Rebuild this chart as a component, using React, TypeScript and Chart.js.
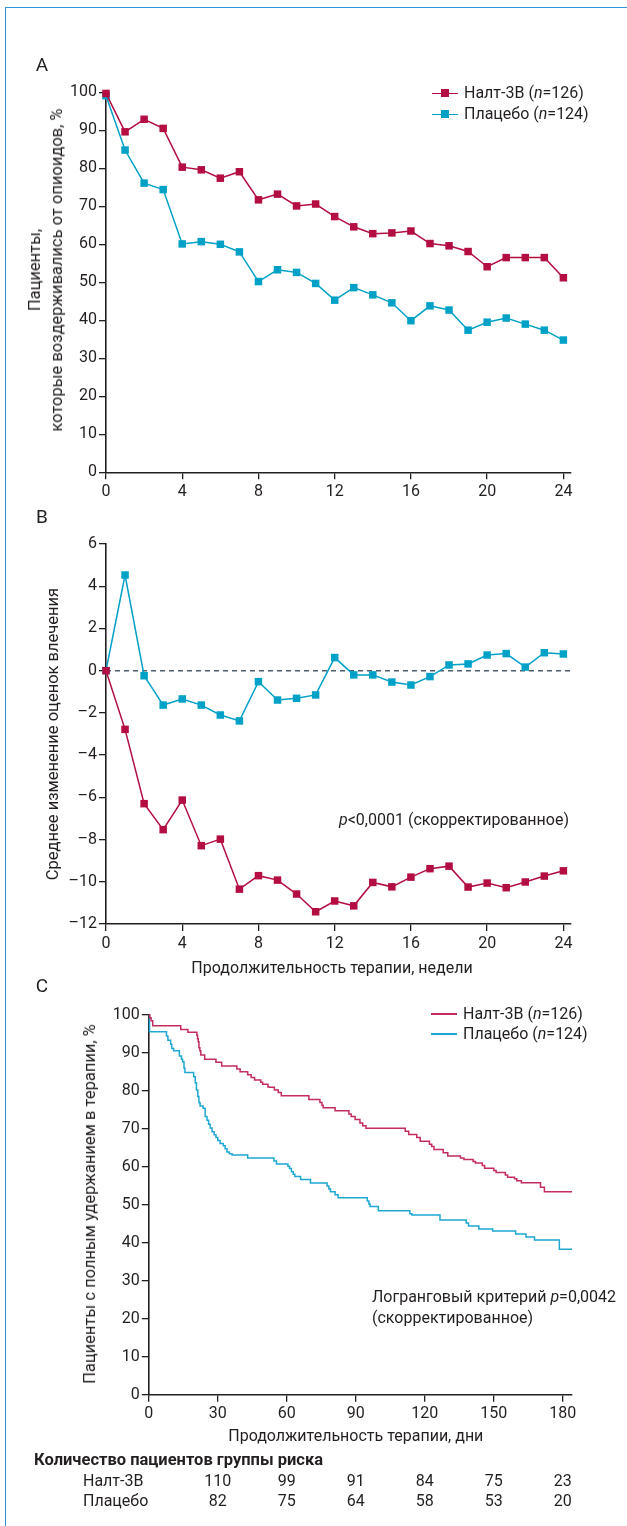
import React, { useEffect, useRef } from 'react';
import { Chart, registerables } from 'chart.js';

Chart.register(...registerables);

// ---------- DATA ----------
const weeks = [0, 1, 2, 3, 4, 5, 6, 7, 8, 9, 10, 11, 12, 13, 14, 15, 16, 17, 18, 19, 20, 21, 22, 23, 24];
const weekTicks = [0, 4, 8, 12, 16, 20, 24];
const pctTicks = [0, 10, 20, 30, 40, 50, 60, 70, 80, 90, 100];
const cravingTicks = [-12, -10, -8, -6, -4, -2, 0, 2, 4, 6];
const dayTicks = [0, 30, 60, 90, 120, 150, 180];

const abstinenceNalt = [99.7, 89.6, 92.9, 90.5, 80.3, 79.6, 77.4, 79.1, 71.7, 73.2, 70.1, 70.6, 67.3, 64.6, 62.8, 63.0, 63.5, 60.2, 59.6, 58.1, 54.1, 56.5, 56.5, 56.5, 51.2];
const abstinencePlacebo = [99.1, 84.8, 76.1, 74.4, 60.1, 60.7, 60.0, 58.0, 50.2, 53.3, 52.6, 49.7, 45.3, 48.6, 46.7, 44.6, 39.9, 43.8, 42.7, 37.4, 39.5, 40.6, 39.0, 37.4, 34.8];

const cravingNalt = [0, -2.78, -6.3, -7.53, -6.13, -8.29, -7.98, -10.35, -9.71, -9.92, -10.58, -11.42, -10.91, -11.14, -10.03, -10.24, -9.78, -9.38, -9.26, -10.25, -10.06, -10.28, -10.01, -9.73, -9.48];
const cravingPlacebo = [0, 4.53, -0.24, -1.63, -1.34, -1.63, -2.1, -2.38, -0.52, -1.39, -1.31, -1.15, 0.62, -0.2, -0.2, -0.54, -0.68, -0.28, 0.27, 0.32, 0.74, 0.81, 0.17, 0.85, 0.79];

const kmNaltDays = [0, 0.4, 1, 1.7, 13.9, 17, 20.9, 21.2, 21.5, 21.8, 22.2, 22.6, 24.3, 29.2, 31.7, 38.3, 39.7, 43, 44.5, 46, 48.7, 49.5, 51.8, 52.5, 54.6, 56.3, 57.6, 69.6, 74.4, 75.3, 75.8, 81, 87, 88, 89.7, 91.8, 93, 94.4, 111.5, 113, 116.5, 118, 122, 123, 124, 128, 130, 135.5, 137, 141, 142, 145, 146, 150, 151, 155, 156, 159, 160, 162, 170.3, 172, 184];
const kmNaltPct = [100, 99.2, 98.4, 97.1, 96.1, 95.4, 94.6, 93.7, 92.9, 91.3, 90.5, 89.4, 88.3, 87.5, 86.5, 85.7, 85.0, 84.2, 83.5, 82.8, 82.2, 81.7, 81.0, 80.9, 80.2, 79.5, 78.7, 77.7, 76.9, 76.2, 75.5, 74.7, 73.9, 73.2, 72.4, 71.5, 70.8, 70.1, 69.3, 68.5, 67.7, 66.7, 65.9, 65.3, 64.5, 63.7, 62.8, 62.3, 61.9, 61.4, 61.0, 60.3, 59.6, 59.0, 58.5, 57.8, 57.2, 56.8, 56.3, 55.8, 54.6, 53.4, 53.4];

const kmPlaceboDays = [0, 0.3, 7.7, 8.3, 9.5, 10, 10.8, 13.3, 14.2, 14.7, 15.3, 15.7, 19.5, 20.2, 20.7, 21.3, 21.8, 22.3, 23.6, 24.5, 25.3, 26, 26.7, 27.5, 28.4, 29.2, 30, 31, 32.4, 33.2, 34, 35, 36.2, 43, 54.4, 55.5, 60.5, 61.2, 62, 62.8, 63.5, 66, 70.3, 77.5, 78.3, 79, 81, 82.3, 95, 95.7, 96.2, 99.8, 113.5, 114.4, 126.6, 138, 139, 143.5, 149.5, 159.5, 164, 167.7, 178.5, 184];
const kmPlaceboPct = [100, 95.5, 94.4, 93.3, 92.2, 91.1, 90.5, 89.1, 88.3, 87.6, 86.0, 84.8, 83.7, 82.1, 80.2, 78.5, 76.8, 76.0, 75.4, 73.2, 72.2, 71.2, 70.2, 69.2, 68.4, 67.7, 66.9, 66.1, 65.5, 64.7, 63.9, 63.4, 63.1, 62.3, 61.5, 60.7, 60.1, 59.5, 58.7, 58.0, 57.4, 56.6, 55.7, 54.9, 54.1, 53.4, 52.6, 51.8, 51.0, 50.2, 49.5, 48.4, 47.6, 47.3, 46.0, 45.2, 44.4, 43.6, 43.1, 42.3, 41.5, 40.7, 38.3, 38.3];

const riskDays = [30, 60, 90, 120, 150, 180];
const riskNalt = [110, 99, 91, 84, 75, 23];
const riskPlacebo = [82, 75, 64, 58, 53, 20];

const seriesNalt = 'Налт-3В';
const seriesPlacebo = 'Плацебо';

// ---------- STYLE ----------
const TXT = '#231f20';
const RED = '#b30d41';
const BLUE = '#00a1c7';
const RED_C = '#c42c5d';
const BLUE_C = '#1ea7d2';
const FRAME = '#2e93d8';
const FONT = 'Roboto, "Noto Sans", sans-serif';
const W = 627;

const minus = (v: number) => (v < 0 ? '\u2013' + Math.abs(v) : String(v));

function axis(kind: 'x' | 'y', min: number, max: number, ticks: number[], size: number, fmt?: (v: number) => string) {
  return {
    type: 'linear',
    min,
    max,
    afterBuildTicks: (s: any) => {
      s.ticks = ticks.map((v) => ({ value: v }));
    },
    afterFit: (s: any) => {
      if (kind === 'x') s.height = size;
      else s.width = size;
    },
    grid: { display: true, drawOnChartArea: false, drawTicks: true, tickLength: 7, color: TXT, lineWidth: 1.3 },
    border: { display: true, color: TXT, width: 1.6 },
    ticks: {
      color: TXT,
      font: { family: FONT, size: 16 },
      padding: kind === 'x' ? 3 : 2,
      maxRotation: 0,
      autoSkip: false,
      callback: (v: any) => (fmt ? fmt(Number(v)) : String(v)),
    },
  };
}

const pts = (xs: number[], ys: number[]) => xs.map((x, i) => ({ x, y: ys[i] }));

function markerSet(label: string, xs: number[], ys: number[], color: string) {
  return {
    label,
    data: pts(xs, ys),
    borderColor: color,
    backgroundColor: color,
    borderWidth: 1.5,
    pointStyle: 'rect',
    pointRadius: 5.3,
    pointBorderWidth: 0,
    pointBackgroundColor: color,
    tension: 0,
    clip: false,
  };
}

const baseOpts = {
  responsive: false,
  animation: false,
  plugins: { legend: { display: false }, tooltip: { enabled: false } },
};

function cfgA(): any {
  return {
    type: 'line',
    data: {
      datasets: [
        markerSet(seriesNalt, weeks, abstinenceNalt, RED),
        markerSet(seriesPlacebo, weeks, abstinencePlacebo, BLUE),
      ],
    },
    options: {
      ...baseOpts,
      layout: { padding: { top: 32.3, bottom: 7.7, left: 6, right: 56 } },
      scales: {
        x: axis('x', 0, 24.4, weekTicks, 40),
        y: axis('y', 0, 100, pctTicks, 100),
      },
    },
  };
}

function cfgB(): any {
  return {
    type: 'line',
    data: {
      datasets: [
        markerSet(seriesNalt, weeks, cravingNalt, RED),
        markerSet(seriesPlacebo, weeks, cravingPlacebo, BLUE),
        {
          label: 'zero',
          data: [
            { x: 0, y: 0 },
            { x: 24.5, y: 0 },
          ],
          borderColor: '#4d5d6b',
          borderDash: [5, 4],
          borderWidth: 1.5,
          pointRadius: 0,
          clip: false,
        },
      ],
    },
    options: {
      ...baseOpts,
      layout: { padding: { top: 24, bottom: 26, left: 6, right: 56 } },
      scales: {
        x: axis('x', 0, 24.4, weekTicks, 40),
        y: axis('y', -12, 6, cravingTicks, 100, minus),
      },
    },
  };
}

const riskPlugin = {
  id: 'riskTable',
  afterDraw(chart: any) {
    const ctx = chart.ctx;
    const x = chart.scales.x;
    ctx.save();
    ctx.fillStyle = TXT;
    ctx.textBaseline = 'middle';
    ctx.font = `16px ${FONT}`;
    ctx.textAlign = 'center';
    ctx.fillText('Продолжительность терапии, дни', x.getPixelForValue(90), 447);
    ctx.textAlign = 'left';
    ctx.font = `bold 16.5px ${FONT}`;
    ctx.fillText('Количество пациентов группы риска', 34, 471);
    ctx.font = `16px ${FONT}`;
    ctx.fillText(seriesNalt, 83, 492);
    ctx.fillText(seriesPlacebo, 83, 512);
    ctx.textAlign = 'center';
    riskDays.forEach((d, i) => {
      const px = x.getPixelForValue(d);
      ctx.fillText(String(riskNalt[i]), px, 492);
      ctx.fillText(String(riskPlacebo[i]), px, 512);
    });
    ctx.restore();
  },
};

function cfgC(): any {
  const km = (label: string, xs: number[], ys: number[], color: string) => ({
    label,
    data: pts(xs, ys),
    borderColor: color,
    backgroundColor: color,
    borderWidth: 1.5,
    pointRadius: 0,
    stepped: 'before',
    clip: false,
  });
  return {
    type: 'line',
    data: {
      datasets: [km(seriesNalt, kmNaltDays, kmNaltPct, RED_C), km(seriesPlacebo, kmPlaceboDays, kmPlaceboPct, BLUE_C)],
    },
    options: {
      ...baseOpts,
      layout: { padding: { top: 24.7, bottom: 106.3, left: 6, right: 55 } },
      scales: {
        x: axis('x', 0, 184, dayTicks, 25),
        y: axis('y', 0, 100, pctTicks, 142.8),
      },
    },
    plugins: [riskPlugin],
  };
}

// ---------- TEXT HELPERS ----------
type TP = { x: number; y: number; anchor?: 'start' | 'middle' | 'end'; size?: number; rotate?: boolean; children: any; weight?: number };
function T({ x, y, anchor = 'start', size = 16, rotate = false, children, weight = 400 }: TP) {
  const tx = anchor === 'start' ? '0' : anchor === 'middle' ? '-50%' : '-100%';
  return (
    <div
      style={{
        position: 'absolute',
        left: x,
        top: y,
        transform: rotate ? 'translate(-50%,-50%) rotate(-90deg)' : `translate(${tx},-50%)`,
        fontSize: size,
        fontWeight: weight,
        lineHeight: rotate ? '22px' : 1.15,
        whiteSpace: 'nowrap',
        textAlign: 'center',
      }}
    >
      {children}
    </div>
  );
}

function LegendRow({ y, color, marker, lineX, text }: { y: number; color: string; marker: boolean; lineX: number; text: any }) {
  return (
    <>
      <div style={{ position: 'absolute', left: lineX, top: y - 0.75, width: 26, height: 1.5, background: color }} />
      {marker && <div style={{ position: 'absolute', left: lineX + 9, top: y - 4, width: 8, height: 8, background: color }} />}
      <T x={lineX + 32} y={y} size={16}>
        {text}
      </T>
    </>
  );
}

export default function App() {
  const aRef = useRef<HTMLCanvasElement>(null);
  const bRef = useRef<HTMLCanvasElement>(null);
  const cRef = useRef<HTMLCanvasElement>(null);

  useEffect(() => {
    const charts = [new Chart(aRef.current!, cfgA()), new Chart(bRef.current!, cfgB()), new Chart(cRef.current!, cfgC())];
    return () => charts.forEach((c) => c.destroy());
  }, []);

  return (
    <div
      style={{
        position: 'absolute',
        left: 0,
        top: 0,
        width: W,
        height: 1526,
        overflow: 'hidden',
        background: '#fff',
        fontFamily: FONT,
        color: TXT,
      }}
    >
      <div style={{ position: 'absolute', left: 5, top: 7, width: 800, height: 1700, borderTop: `1.5px solid ${FRAME}`, borderLeft: `1.5px solid ${FRAME}` }} />
      <canvas ref={aRef} width={W} height={460} style={{ position: 'absolute', left: 0, top: 60, width: W, height: 460 }} />
      <canvas ref={bRef} width={W} height={470} style={{ position: 'absolute', left: 0, top: 520, width: W, height: 470 }} />
      <canvas ref={cRef} width={W} height={536} style={{ position: 'absolute', left: 0, top: 990, width: W, height: 536 }} />

      <T x={42} y={65} anchor="middle" size={19}>A</T>
      <T x={42} y={517} anchor="middle" size={19}>B</T>
      <T x={42} y={986} anchor="middle" size={19}>C</T>

      <T x={46} y={270} rotate size={16.5}>
        Пациенты,
        <br />
        которые воздерживались от опиоидов, %
      </T>
      <T x={53} y={734} rotate size={16.5}>
        Среднее изменение оценок влечения
      </T>
      <T x={90} y={1204} rotate size={16.5}>
        Пациенты с полным удержанием в терапии, %
      </T>

      <LegendRow y={93.3} color={RED} marker lineX={432} text={<>{seriesNalt} (<i>n</i>=126)</>} />
      <LegendRow y={114.3} color={BLUE} marker lineX={432} text={<>{seriesPlacebo} (<i>n</i>=124)</>} />

      <T x={569} y={820} anchor="end">
        <i>p</i>&lt;0,0001 (скорректированное)
      </T>
      <T x={332} y={968} anchor="middle">
        Продолжительность терапии, недели
      </T>

      <LegendRow y={1014} color={RED_C} marker={false} lineX={431} text={<>{seriesNalt} (<i>n</i>=126)</>} />
      <LegendRow y={1034} color={BLUE_C} marker={false} lineX={431} text={<>{seriesPlacebo} (<i>n</i>=124)</>} />

      <T x={372} y={1297}>
        Логранговый критерий <i>p</i>=0,0042
      </T>
      <T x={372} y={1318}>
        (скорректированное)
      </T>
    </div>
  );
}
